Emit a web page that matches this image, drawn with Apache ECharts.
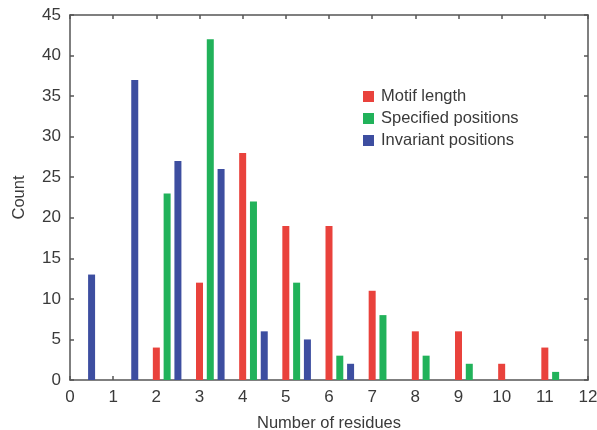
<!DOCTYPE html>
<html><head><meta charset="utf-8">
<script src="https://cdn.jsdelivr.net/npm/echarts@6/dist/echarts.min.js"></script>
<style>html,body{margin:0;padding:0;background:#fff}#c{width:597px;height:430px}</style>
</head><body><div id="c"></div>
<script>
var motifX = [2, 3, 4, 5, 6, 7, 8, 9, 10, 11];
var motifY = [4, 12, 28, 19, 19, 11, 6, 6, 2, 4];
var specX = [2.25, 3.25, 4.25, 5.25, 6.25, 7.25, 8.25, 9.25, 11.25];
var specY = [23, 42, 22, 12, 3, 8, 3, 2, 1];
var invX = [0.5, 1.5, 2.5, 3.5, 4.5, 5.5, 6.5];
var invY = [13, 37, 27, 26, 6, 5, 2];
var seriesNames = ['Motif length', 'Specified positions', 'Invariant positions'];
var xTicks = [0, 1, 2, 3, 4, 5, 6, 7, 8, 9, 10, 11, 12];
var yTicks = [0, 5, 10, 15, 20, 25, 30, 35, 40, 45];

function pairs(xs, ys) { return xs.map(function (x, i) { return [x, ys[i]]; }); }

var font = '"Liberation Sans", Arial, Helvetica, sans-serif';
var textColor = '#3a3a3a';
var lineStyle = { color: '#555', width: 1.5 };
var colors = ['#e9423c', '#21b25a', '#3d4ea0'];

var chart = echarts.init(document.getElementById('c'), null, { renderer: 'canvas' });
var baseX = {
  type: 'value', min: xTicks[0], max: xTicks[xTicks.length - 1], interval: 1,
  axisLine: { show: true, lineStyle: lineStyle, onZero: false },
  axisTick: { show: true, inside: true, length: 4, lineStyle: lineStyle },
  splitLine: { show: false }
};
var baseY = {
  type: 'value', min: yTicks[0], max: yTicks[yTicks.length - 1], interval: 5,
  axisLine: { show: true, lineStyle: lineStyle, onZero: false },
  axisTick: { show: true, inside: true, length: 4, lineStyle: lineStyle },
  splitLine: { show: false }
};
chart.setOption({
  animation: false,
  textStyle: { fontFamily: font },
  grid: { left: 70, right: 9, top: 15, bottom: 50, containLabel: false, outerBoundsMode: 'none' },
  legend: {
    orient: 'vertical', left: 358, top: 83,
    itemWidth: 11, itemHeight: 11, itemGap: 5,
    icon: 'rect',
    data: seriesNames,
    textStyle: { fontSize: 16.5, color: textColor, fontFamily: font, padding: [0, 0, 0, 2] }
  },
  xAxis: [
    Object.assign({}, baseX, {
      position: 'bottom',
      name: 'Number of residues', nameLocation: 'middle', nameGap: 35,
      nameTextStyle: { fontSize: 16.5, color: textColor, fontFamily: font },
      axisLabel: { show: true, fontSize: 17, color: textColor, margin: 9, fontFamily: font,
        formatter: function (v) { return xTicks.indexOf(v) >= 0 ? String(v) : ''; } }
    }),
    Object.assign({}, baseX, { position: 'top', axisLabel: { show: false } })
  ],
  yAxis: [
    Object.assign({}, baseY, {
      position: 'left',
      name: 'Count', nameLocation: 'middle', nameGap: 42,
      nameTextStyle: { fontSize: 16.5, color: textColor, fontFamily: font },
      axisLabel: { show: true, fontSize: 17, color: textColor, margin: 9, fontFamily: font,
        formatter: function (v) { return yTicks.indexOf(v) >= 0 ? String(v) : ''; } }
    }),
    Object.assign({}, baseY, { position: 'right', axisLabel: { show: false } })
  ],
  series: [
    { name: seriesNames[0], type: 'bar', data: pairs(motifX, motifY), barWidth: 7, barGap: '-100%', itemStyle: { color: colors[0] } },
    { name: seriesNames[1], type: 'bar', data: pairs(specX, specY), barWidth: 7, barGap: '-100%', itemStyle: { color: colors[1] } },
    { name: seriesNames[2], type: 'bar', data: pairs(invX, invY), barWidth: 7, barGap: '-100%', itemStyle: { color: colors[2] } }
  ]
});
</script>
</body></html>
